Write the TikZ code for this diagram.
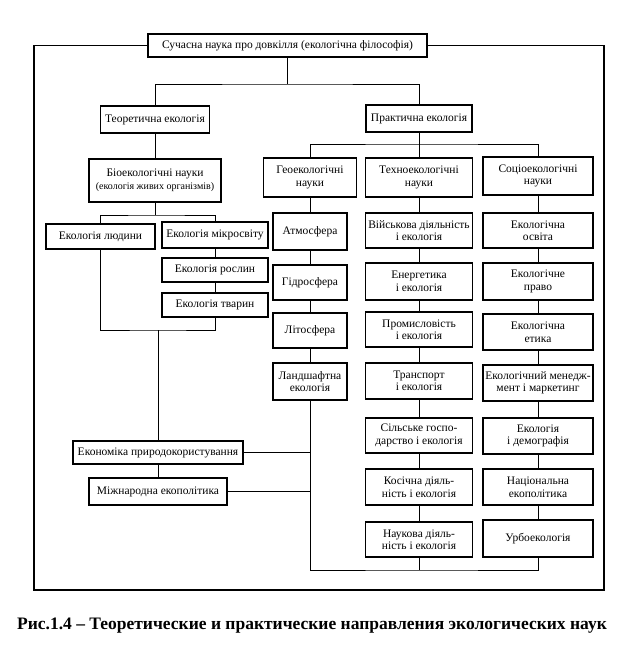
\documentclass[tikz,border=0pt]{standalone}
\usepackage{fontspec}
\setmainfont{Liberation Serif}
\begin{document}
\begin{tikzpicture}[x=1pt, y=-1pt, font=\fontsize{11.5}{12.5}\selectfont,
		box/.style={draw, line width=1.2pt, align=center, inner sep=1pt},
		link/.style={line width=0.9pt},
		frame/.style={line width=1.3pt}]
		\useasboundingbox (0,0) rectangle (628,654);
		% top and the two branches
		\node[box, minimum width=279, minimum height=23] (top) at (287.5,45.5) {Сучасна наука про довкілля (екологічна філософія)};
		\node[box, minimum width=109, minimum height=27] (teor) at (155,119.5) {Теоретична екологія};
		\node[box, minimum width=106, minimum height=27] (prakt) at (419,118.5) {Практична екологія};
		% theoretical side
		\node[box, minimum width=132, minimum height=43] (bio) at (155,180.5) {Біоекологічні науки\\{\fontsize{10}{12}\selectfont(екологія живих організмів)}};
		\node[box, minimum width=109, minimum height=25] (lud) at (100.5,236.5) {Екологія людини};
		\node[box, minimum width=106, minimum height=26] (mikro) at (215,235) {Екологія мікросвіту};
		\node[box, minimum width=106, minimum height=24] (rosl) at (215,270) {Екологія рослин};
		\node[box, minimum width=106, minimum height=24] (tvar) at (215,305) {Екологія тварин};
		\node[box, minimum width=170, minimum height=23] (econ) at (158,452.5) {Економіка природокористування};
		\node[box, minimum width=138, minimum height=27] (mizh) at (158,491.5) {Міжнародна екополітика};
		% practical side: three columns
		\node[box, minimum width=93, minimum height=39] (geo) at (310,177.5) {Геоекологічні\\науки};
		\foreach \nm/\yy/\hh/\txt in {atm/231.5/37/Атмосфера, hyd/282.5/35/Гідросфера, lit/330.5/35/Літосфера,
			land/381.5/37/{Ландшафтна\\екологія}}
			\node[box, minimum width=74, minimum height=\hh] (\nm) at (310,\yy) {\txt};
		\foreach \nm/\yy/\hh/\txt in {tech/177.5/39/{Техноекологічні\\науки}, viys/230.5/35/{Військова діяльність\\і екологія},
			energ/281.5/37/{Енергетика\\і екологія}, prom/329.5/35/{Промисловість\\і екологія},
			trans/381/36/{Транспорт\\і екологія}, silg/435.5/35/{Сільське госпо-\\дарство і екологія},
			kosm/487/36/{Косічна діяль-\\ність і екологія}, nauk/539.5/35/{Наукова діяль-\\ність і екологія}}
			\node[box, minimum width=107, minimum height=\hh] (\nm) at (419,\yy) {\txt};
		\foreach \nm/\yy/\hh/\txt in {soc/176/38/{Соціоекологічні\\науки}, osv/230.5/35/{Екологічна\\освіта},
			pravo/281.5/37/{Екологічне\\право}, etyka/332/36/{Екологічна\\етика},
			men/383/36/{Екологічний менедж-\\мент і маркетинг}, demo/436/36/{Екологія\\і демографія},
			nats/487/36/{Національна\\екополітика}, urbo/538.5/37/Урбоекологія}
			\node[box, minimum width=110, minimum height=\hh] (\nm) at (538,\yy) {\txt};
		% caption
		\node[font=\fontsize{17.5}{20}\selectfont\bfseries] (cap) at (312,626) {Рис.1.4 – Теоретические и практические направления экологических наук};
		% outer frame
		\coordinate (f1) at (34,590);
		\coordinate (f2) at (604,590);
		\draw[frame] (top) -| (f1) -- (f2) |- (top);
		% connectors
		\coordinate (b1) at (287.5,84);
		\draw[link] (top) -- (b1);
		\draw[link] (teor) |- (b1) -| (prakt);
		\draw[link] (teor) -- (bio);
		\coordinate (b2) at (155,215);
		\draw[link] (bio) -- (b2);
		\draw[link] (lud) |- (b2) -| (mikro);
		\coordinate (b3) at (158,330);
		\draw[link] (lud) |- (b3) -| (tvar);
		\draw[link] (b3) -- (econ);
		\draw[link] (econ) -- (mizh);
		\coordinate (b5) at (419,144);
		\draw[link] (prakt) -- (tech);
		\draw[link] (geo) |- (b5) -| (soc);
		\foreach \a/\b in {mikro/rosl, rosl/tvar, geo/atm, atm/hyd, hyd/lit, lit/land,
			tech/viys, viys/energ, energ/prom, prom/trans, trans/silg, silg/kosm, kosm/nauk,
			soc/osv, osv/pravo, pravo/etyka, etyka/men, men/demo, demo/nats, nats/urbo}
			\draw[link] (\a) -- (\b);
		\coordinate (b6) at (419,570);
		\draw[link] (land) |- (b6) -| (urbo);
		\draw[link] (nauk) -- (b6);
		\draw[link] (econ) -- (econ -| land);
		\draw[link] (mizh) -- (mizh -| land);
	\end{tikzpicture}
\end{document}
